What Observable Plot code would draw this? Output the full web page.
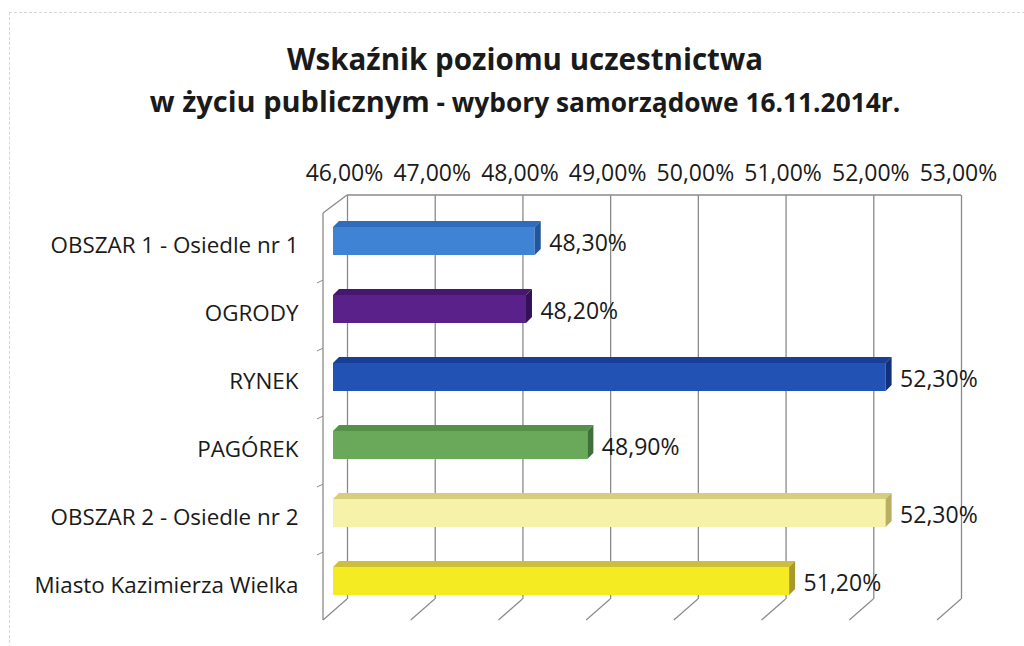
<!DOCTYPE html>
<html>
<head>
<meta charset="utf-8">
<script src="https://cdn.jsdelivr.net/npm/d3@7"></script>
<script src="https://cdn.jsdelivr.net/npm/@observablehq/plot@0.6"></script>
<style>
  html, body { margin: 0; padding: 0; background: #fff; }
  #wrap { position: relative; width: 1024px; height: 646px; overflow: hidden; font-family: "Open Sans", sans-serif; }
  #scanborder { position: absolute; left: 9px; top: 12px; width: 1030px; height: 650px; border-top: 1px dashed #d6d6d6; border-left: 1px dashed #d6d6d6; }
  .title { position: absolute; left: 13px; width: 1024px; text-align: center; font-weight: 700; color: #1a1a1a; line-height: 1; white-space: nowrap; }
  #t1 { top: 44px; font-size: 29.5px; }
  #t2 { top: 86px; font-size: 29px; }
  #t2 .small { font-size: 26.3px; }
  #chart { position: absolute; left: 0; top: 0; }
</style>
</head>
<body>
<div id="wrap">
  <div id="scanborder"></div>
  <div id="chart"></div>
  <div class="title" id="t1">Wskaźnik poziomu uczestnictwa</div>
  <div class="title" id="t2">w życiu publicznym<span class="small"> - wybory samorządowe 16.11.2014r.</span></div>
</div>
<script>
const names = ["OBSZAR 1 - Osiedle nr 1", "OGRODY", "RYNEK", "PAGÓREK", "OBSZAR 2 - Osiedle nr 2", "Miasto Kazimierza Wielka"];
const values = [48.3, 48.2, 52.3, 48.9, 52.3, 51.2];
const valueLabels = ["48,30%", "48,20%", "52,30%", "48,90%", "52,30%", "51,20%"];
const frontColors = ["#3f84d4", "#5a218a", "#2252b4", "#6aa85a", "#f6f2aa", "#f4eb22"];
const topColors = ["#2f6cbc", "#461670", "#173f98", "#56914a", "#d6cd7e", "#cdbf3c"];
const sideColors = ["#24559a", "#35105a", "#11307a", "#40703a", "#b9ae62", "#a89a2a"];
const ticks = [46, 47, 48, 49, 50, 51, 52, 53];
const tickLabels = ["46,00%", "47,00%", "48,00%", "49,00%", "50,00%", "51,00%", "52,00%", "53,00%"];
const baseline = 46;

const data = names.map((name, i) => ({
  name, value: values[i], label: valueLabels[i],
  front: frontColors[i], top: topColors[i], side: sideColors[i]
}));

const backDx = 14, frontDx = -10, floorY = 620, backBottom = 599, depth = 6;

const chart = Plot.plot({
  width: 1024,
  height: 646,
  marginLeft: 333,
  marginRight: 77,
  marginTop: 195,
  marginBottom: 26,
  style: { fontFamily: "Open Sans", background: "transparent", color: "#1a1a1a", overflow: "visible" },
  x: { domain: [46, 53], label: null },
  y: { domain: names, range: [187, 635], padding: 0.588, label: null },
  marks: [
    Plot.ruleX(ticks, { x: d => d, dx: backDx, stroke: "#8a8a8a", strokeWidth: 1.3, insetBottom: floorY - backBottom }),
    Plot.axisX(ticks, { anchor: "top", label: null, tickSize: 0, tickPadding: 15, dx: 11, fontSize: 23,
      tickFormat: d => tickLabels[ticks.indexOf(d)] }),
    Plot.axisY({ anchor: "left", label: null, tickSize: 0, tickPadding: 35, fontSize: 22.4, dy: 4 }),
    Plot.barX(data, { x1: () => baseline, x2: "value", y: "name", fill: "front" }),
    Plot.text(data, { x: "value", y: "name", text: "label", dx: 14, dy: 2, textAnchor: "start", fontSize: 23, fill: "#1a1a1a" })
  ]
});

document.getElementById("chart").appendChild(chart);

// 3D decorations using the plot's own scales
const X = chart.scale("x"), Y = chart.scale("y");
const svg = d3.select(chart);
const g = svg.append("g");
const top0 = 195;
const gray = "#8a8a8a";

// back wall top edge
g.append("line").attr("x1", X.apply(46) + backDx).attr("x2", X.apply(53) + backDx)
  .attr("y1", top0).attr("y2", top0).attr("stroke", gray).attr("stroke-width", 1.6);
// left front edge
g.append("line").attr("x1", X.apply(46) + frontDx).attr("x2", X.apply(46) + frontDx)
  .attr("y1", 213).attr("y2", floorY).attr("stroke", gray).attr("stroke-width", 1.3);
// connector
g.append("line").attr("x1", X.apply(46) + frontDx).attr("y1", 213)
  .attr("x2", X.apply(46) + backDx).attr("y2", top0).attr("stroke", gray).attr("stroke-width", 1.3);
// floor ticks
ticks.forEach(v => {
  g.append("line").attr("x1", X.apply(v) + frontDx).attr("y1", floorY)
    .attr("x2", X.apply(v) + backDx).attr("y2", backBottom).attr("stroke", gray).attr("stroke-width", 1.2);
});
// small ticks on left wall between categories
const step = Y.step, bw = Y.bandwidth;
names.slice(1).forEach(n => {
  const b = Y.apply(n) - (step - bw) / 2 + 5;
  g.append("line").attr("x1", X.apply(46) + frontDx - 6).attr("y1", b + 3)
    .attr("x2", X.apply(46) + frontDx).attr("y2", b).attr("stroke", gray).attr("stroke-width", 1);
});
// bar top and side faces
data.forEach(d => {
  const x1 = X.apply(baseline), x2 = X.apply(d.value), y0 = Y.apply(d.name), h = bw;
  g.append("polygon")
    .attr("points", [[x1, y0], [x2, y0], [x2 + depth, y0 - depth], [x1 + depth, y0 - depth]].map(p => p.join(",")).join(" "))
    .attr("fill", d.top);
  g.append("polygon")
    .attr("points", [[x2, y0], [x2 + depth, y0 - depth], [x2 + depth, y0 + h - depth], [x2, y0 + h]].map(p => p.join(",")).join(" "))
    .attr("fill", d.side);
});
</script>
</body>
</html>
